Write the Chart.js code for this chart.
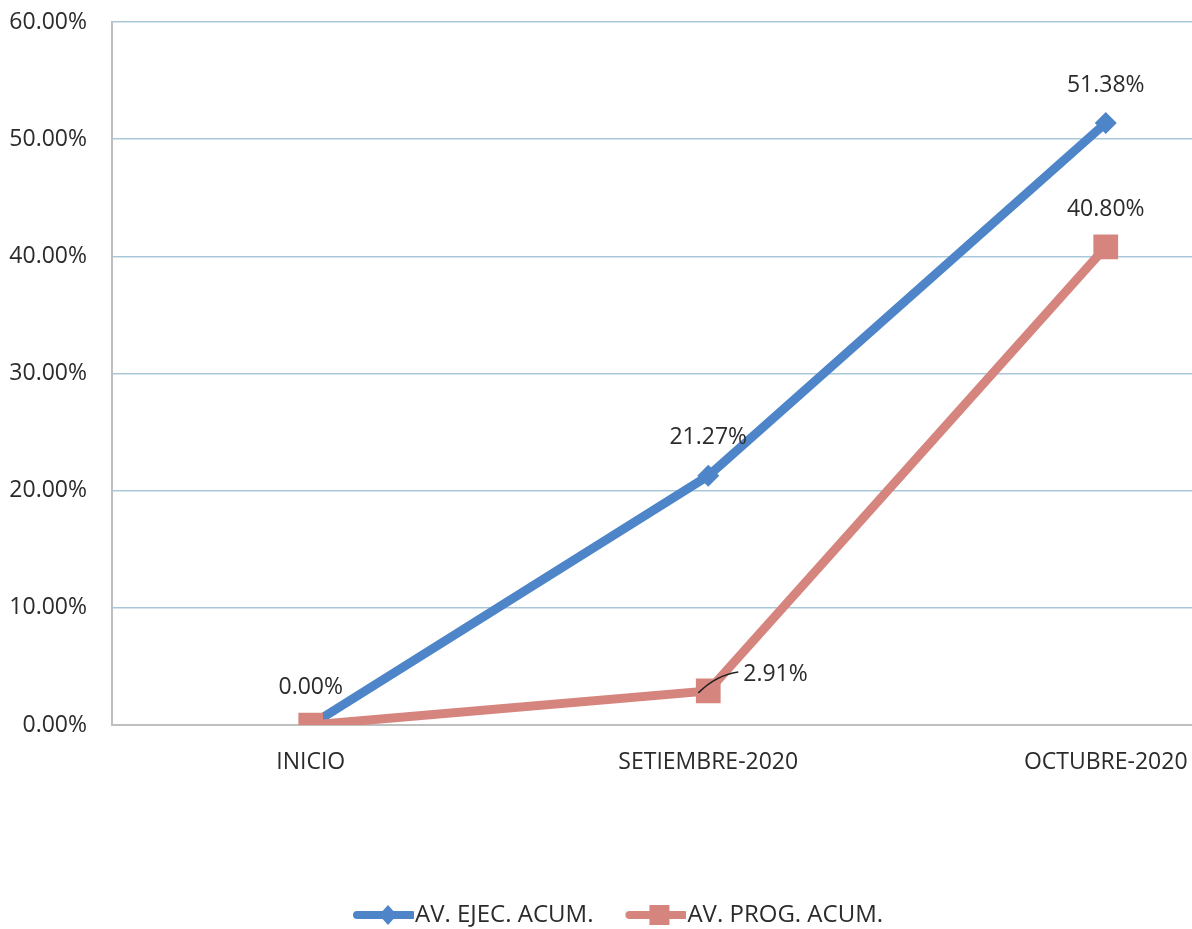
<!DOCTYPE html>
<html>
<head>
<meta charset="utf-8">
<script src="https://cdn.jsdelivr.net/npm/chart.js@4.4.1/dist/chart.umd.min.js"></script>
<style>
  html, body { margin: 0; padding: 0; background: #fff; overflow: hidden; }
  #wrap { width: 1422px; height: 937px; margin-left: -100px; }
</style>
</head>
<body>
<div id="wrap"><canvas id="avanceChart"></canvas></div>
<script>
const categories = ['INICIO', 'SETIEMBRE-2020', 'OCTUBRE-2020'];
const ejecAcum = [0.00, 21.27, 51.38];
const progAcum = [0.00, 2.91, 40.80];
const yTicks = [0, 10, 20, 30, 40, 50, 60];

const BLUE = '#4d85c8';
const RED = '#d6857e';
const FONT = '"Open Sans", sans-serif';
const TEXT = '#2b2b2b';

function legendImage(color, shape) {
  const c = document.createElement('canvas');
  c.width = 62; c.height = 24;
  const g = c.getContext('2d');
  g.strokeStyle = color;
  g.lineWidth = 8;
  g.lineCap = 'round';
  g.beginPath(); g.moveTo(5, 12); g.lineTo(60, 12); g.stroke();
  g.fillStyle = color;
  if (shape === 'diamond') {
    g.beginPath(); g.moveTo(36, 2); g.lineTo(45, 12); g.lineTo(36, 22); g.lineTo(27, 12); g.closePath(); g.fill();
  } else {
    g.fillRect(25, 2, 20, 20);
  }
  return c;
}

// labels drawn next to points: [dataset][index] -> placement
const labelPlace = [
  ['above', 'above', 'above'],
  [null, 'right', 'above']
];

const pointLabels = {
  id: 'pointLabels',
  afterDatasetsDraw(chart) {
    const ctx = chart.ctx;
    ctx.save();
    ctx.font = '23px ' + FONT;
    ctx.fillStyle = TEXT;
    ctx.textBaseline = 'middle';
    chart.data.datasets.forEach((ds, di) => {
      const meta = chart.getDatasetMeta(di);
      meta.data.forEach((pt, i) => {
        const place = labelPlace[di][i];
        if (!place) return;
        const txt = ds.data[i].toFixed(2) + '%';
        if (place === 'above') {
          ctx.textAlign = 'center';
          ctx.fillText(txt, pt.x, pt.y - 38);
        } else {
          ctx.strokeStyle = '#222';
          ctx.lineWidth = 1.5;
          ctx.beginPath();
          ctx.moveTo(pt.x - 10, pt.y + 2);
          ctx.quadraticCurveTo(pt.x + 8, pt.y - 16, pt.x + 30, pt.y - 19);
          ctx.stroke();
          ctx.textAlign = 'left';
          ctx.fillText(txt, pt.x + 35, pt.y - 16);
        }
      });
    });
    ctx.restore();
  }
};

const ctx = document.getElementById('avanceChart').getContext('2d');
new Chart(ctx, {
  type: 'line',
  data: {
    labels: categories,
    datasets: [{
      label: 'AV. EJEC. ACUM.',
      data: ejecAcum,
      borderColor: BLUE,
      backgroundColor: BLUE,
      borderWidth: 9,
      pointStyle: 'rectRot',
      pointRadius: 11,
      pointBorderWidth: 0,
      tension: 0,
      order: 1,
      legendImg: legendImage(BLUE, 'diamond')
    }, {
      label: 'AV. PROG. ACUM.',
      data: progAcum,
      borderColor: RED,
      backgroundColor: RED,
      borderWidth: 9,
      pointStyle: 'rect',
      pointRadius: 17.5,
      pointBorderWidth: 0,
      tension: 0,
      order: 0,
      legendImg: legendImage(RED, 'square')
    }]
  },
  options: {
    responsive: true,
    maintainAspectRatio: false,
    animation: false,
    layout: { padding: { left: 24, right: 0, top: 22, bottom: 0 } },
    plugins: {
      tooltip: { enabled: false },
      legend: {
        position: 'bottom',
        labels: {
          color: TEXT,
          font: { family: FONT, size: 24 },
          usePointStyle: true,
          pointStyleWidth: 40,
          padding: 42,
          generateLabels: chart => chart.data.datasets.map((ds, i) => ({
            text: ds.label,
            pointStyle: ds.legendImg,
            fillStyle: ds.borderColor,
            strokeStyle: ds.borderColor,
            lineWidth: 0,
            fontColor: TEXT,
            datasetIndex: i,
            hidden: false
          }))
        }
      }
    },
    scales: {
      x: {
        offset: true,
        afterFit(scale) { scale.paddingLeft = 0; scale.paddingRight = 0; },
        grid: { display: false },
        border: { color: '#bfbfbf', width: 2 },
        ticks: { color: TEXT, font: { family: FONT, size: 23 }, padding: 16 },
        title: { display: true, text: ' ', padding: { top: 0, bottom: 54 } }
      },
      y: {
        min: 0,
        max: 60,
        afterFit(scale) { scale.width = 188; scale.paddingTop = 0; scale.paddingBottom = 0; },
        afterBuildTicks(scale) { scale.ticks = yTicks.map(v => ({ value: v })); },
        grid: { color: '#a9c7da', lineWidth: 1.5, drawTicks: false },
        border: { color: '#bfbfbf', width: 2 },
        ticks: {
          color: TEXT,
          font: { family: FONT, size: 23 },
          padding: 25,
          callback: v => v.toFixed(2) + '%'
        }
      }
    }
  },
  plugins: [pointLabels]
});
</script>
</body>
</html>
